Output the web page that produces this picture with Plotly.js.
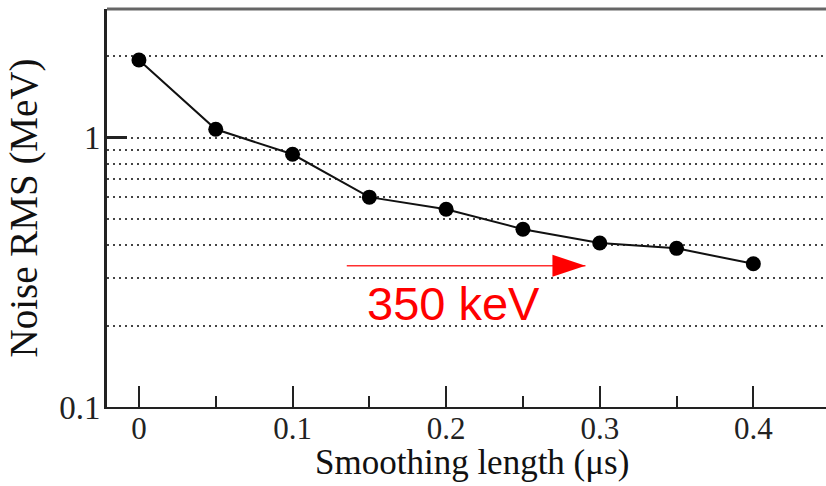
<!DOCTYPE html>
<html>
<head>
<meta charset="utf-8">
<script src="https://cdn.plot.ly/plotly-3.0.1.min.js"></script>
<style>html,body{margin:0;padding:0;background:#fff;}#chart{width:826px;height:486px;}</style>
</head>
<body>
<div id="chart"></div>
<script>
// Data
const smoothingLength = [0, 0.05, 0.1, 0.15, 0.2, 0.25, 0.3, 0.35, 0.4];
const noiseRMS = [1.94, 1.073, 0.867, 0.601, 0.542, 0.457, 0.406, 0.388, 0.34];
const xTickVals = [0, 0.1, 0.2, 0.3, 0.4];
const xTickText = ['0', '0.1', '0.2', '0.3', '0.4'];
const yTickVals = [0.1, 1];
const yTickText = ['0.1', '1'];
const yGridVals = [0.2, 0.3, 0.4, 0.5, 0.6, 0.7, 0.8, 0.9, 2];
const xTitle = 'Smoothing length (μs)';
const yTitle = 'Noise RMS (MeV)';
const annText = '350 keV';
const arrowTail = [0.1353, 0.3345];
const arrowTip = [0.2907, 0.3345];
const annPos = [0.205, 0.243];

const serif = 'Liberation Serif, Times New Roman, serif';

const trace = {
  x: smoothingLength, y: noiseRMS, type: 'scatter', mode: 'lines+markers',
  line: {color: '#111', width: 2},
  marker: {color: '#000', size: 15},
  hoverinfo: 'x+y', showlegend: false
};

const layout = {
  width: 826, height: 486,
  margin: {l: 107, r: 0, t: 9, b: 79},
  paper_bgcolor: '#fff', plot_bgcolor: '#fff',
  xaxis: {
    range: [-0.0208, 0.4473],
    tickmode: 'array', tickvals: xTickVals, ticktext: xTickText,
    ticks: 'inside', ticklen: 21, tickwidth: 2, tickcolor: '#222',
    minor: {dtick: 0.05, tick0: 0, ticks: 'inside', ticklen: 11, tickwidth: 2, tickcolor: '#222', showgrid: false},
    showgrid: false, zeroline: false,
    showline: true, linecolor: '#222', linewidth: 2,
    tickfont: {family: serif, size: 31, color: '#222'},
    ticklabelstandoff: -7
  },
  yaxis: {
    type: 'log', range: [-1, Math.log10(3)],
    tickmode: 'array', tickvals: yTickVals, ticktext: yTickText,
    ticks: 'inside', ticklen: 20, tickwidth: 3, tickcolor: '#222',
    showgrid: true, gridcolor: '#444', gridwidth: 2, griddash: '2px,4px',
    minor: {tickmode: 'array', tickvals: yGridVals, ticks: '', showgrid: true, gridcolor: '#444', gridwidth: 2, griddash: '2px,4px'},
    zeroline: false,
    showline: true, linecolor: '#222', linewidth: 3,
    tickfont: {family: serif, size: 33, color: '#222'},
    ticklabelstandoff: -3,
    title: {text: yTitle, font: {family: serif, size: 39, color: '#111'}, standoff: 10}
  },
  shapes: [
    {type: 'line', xref: 'paper', yref: 'paper', x0: 0, x1: 1, y0: 1, y1: 1, line: {color: '#666', width: 3}},
    {type: 'line', xref: 'x', yref: 'y', x0: arrowTail[0], x1: arrowTip[0], y0: arrowTail[1], y1: arrowTip[1], line: {color: '#ff3030', width: 1.5}},
    {type: 'path', xref: 'x', yref: 'y', xsizemode: 'pixel', ysizemode: 'pixel', xanchor: arrowTip[0], yanchor: arrowTip[1],
     path: 'M-33,-11L0,0L-33,11Z', fillcolor: '#ff0000', line: {width: 0}}
  ],
  annotations: [
    {x: annPos[0], y: Math.log10(annPos[1]), xref: 'x', yref: 'y', text: annText, showarrow: false,
     font: {family: 'Liberation Sans, Arial, sans-serif', size: 47, color: '#ff0000'}},
    {x: 0.5076, y: -0.0854, xref: 'paper', yref: 'paper', xanchor: 'center', yanchor: 'top', text: xTitle, showarrow: false,
     font: {family: serif, size: 35, color: '#111'}}
  ]
};

Plotly.newPlot('chart', [trace], layout, {staticPlot: true});
</script>
</body>
</html>
